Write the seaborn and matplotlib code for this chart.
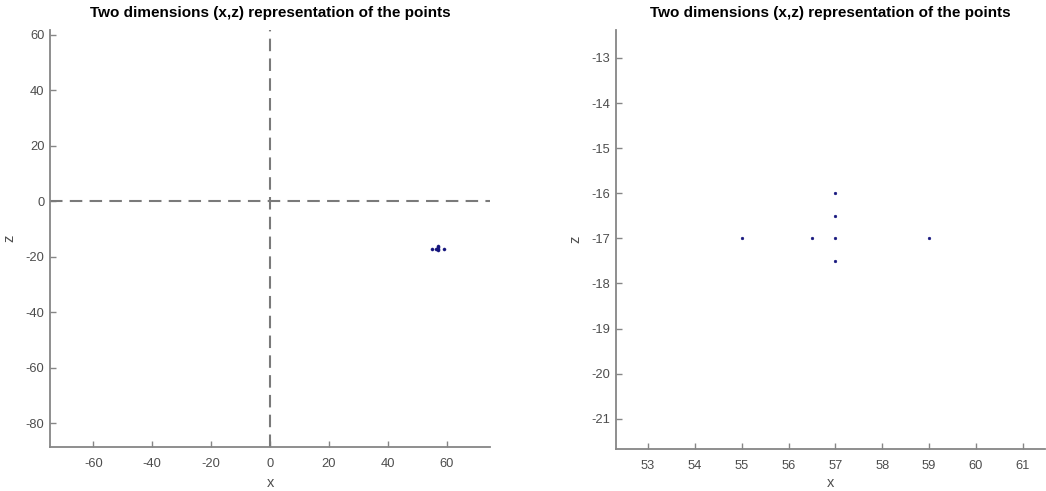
import matplotlib
matplotlib.use("Agg")
import matplotlib.pyplot as plt
import seaborn as sns
import pandas as pd

# Point coordinates (x, z)
x_vals = [55, 56.5, 57, 57, 57, 57, 59]
z_vals = [-17, -17, -17, -16, -16.5, -17.5, -17]

title_text = "Two dimensions (x,z) representation of the points"

left_xticks = [-60, -40, -20, 0, 20, 40, 60]
left_yticks = [-80, -60, -40, -20, 0, 20, 40, 60]
right_xticks = [53, 54, 55, 56, 57, 58, 59, 60, 61]
right_yticks = [-21, -20, -19, -18, -17, -16, -15, -14, -13]

sns.set_style("ticks")
plt.rcParams["font.family"] = ["Liberation Sans", "DejaVu Sans"]
plt.rcParams["axes.unicode_minus"] = False

df = pd.DataFrame({"x": x_vals, "z": z_vals})

fig = plt.figure(figsize=(10.46, 4.91), dpi=100)
ax1 = fig.add_axes([0.0478, 0.0896, 0.4207, 0.8494])
ax2 = fig.add_axes([0.589, 0.0855, 0.410, 0.8535])

spine_col = "#868686"
label_col = "#4d4d4d"
point_col = "#15157d"


def style_axes(ax, xticks, yticks, xlabelpad):
    for side in ("top", "right"):
        ax.spines[side].set_visible(False)
    for side in ("left", "bottom"):
        ax.spines[side].set_color(spine_col)
        ax.spines[side].set_linewidth(1.3)
    ax.set_xticks(xticks)
    ax.set_yticks(yticks)
    ax.tick_params(direction="in", length=4, width=1, color=spine_col,
                   labelsize=9.3, labelcolor=label_col)
    ax.tick_params(axis="x", pad=8)
    ax.tick_params(axis="y", pad=4)
    ax.set_xlabel("x", fontsize=10.5, color=label_col, labelpad=xlabelpad)
    ax.set_ylabel("z", fontsize=10.5, color=label_col, labelpad=6.5)
    ax.set_title(title_text, fontsize=11, fontweight="bold", color="black", pad=9)
    ax.grid(False)


# Overview with the origin axes
ax1.axhline(0, color="#7a7a7a", lw=1.5, ls=(0, (6, 3.5)), zorder=1)
ax1.axvline(0, color="#7a7a7a", lw=1.5, ls=(0, (6, 3.5)), zorder=1)
sns.scatterplot(data=df, x="x", y="z", ax=ax1, color=point_col, s=5,
                marker="o", edgecolor=point_col, linewidth=0.3, zorder=3)
ax1.set_xlim(-74.7, 74.7)
ax1.set_ylim(-88.5, 61.8)
style_axes(ax1, left_xticks, left_yticks, 4)

# Close-up around the points
sns.scatterplot(data=df, x="x", y="z", ax=ax2, color=point_col, s=4,
                marker="o", edgecolor=point_col, linewidth=0.3, zorder=3)
ax2.set_xlim(52.32, 61.47)
ax2.set_ylim(-21.67, -12.38)
style_axes(ax2, right_xticks, right_yticks, 2.5)

fig.savefig("out.png", dpi=100)
